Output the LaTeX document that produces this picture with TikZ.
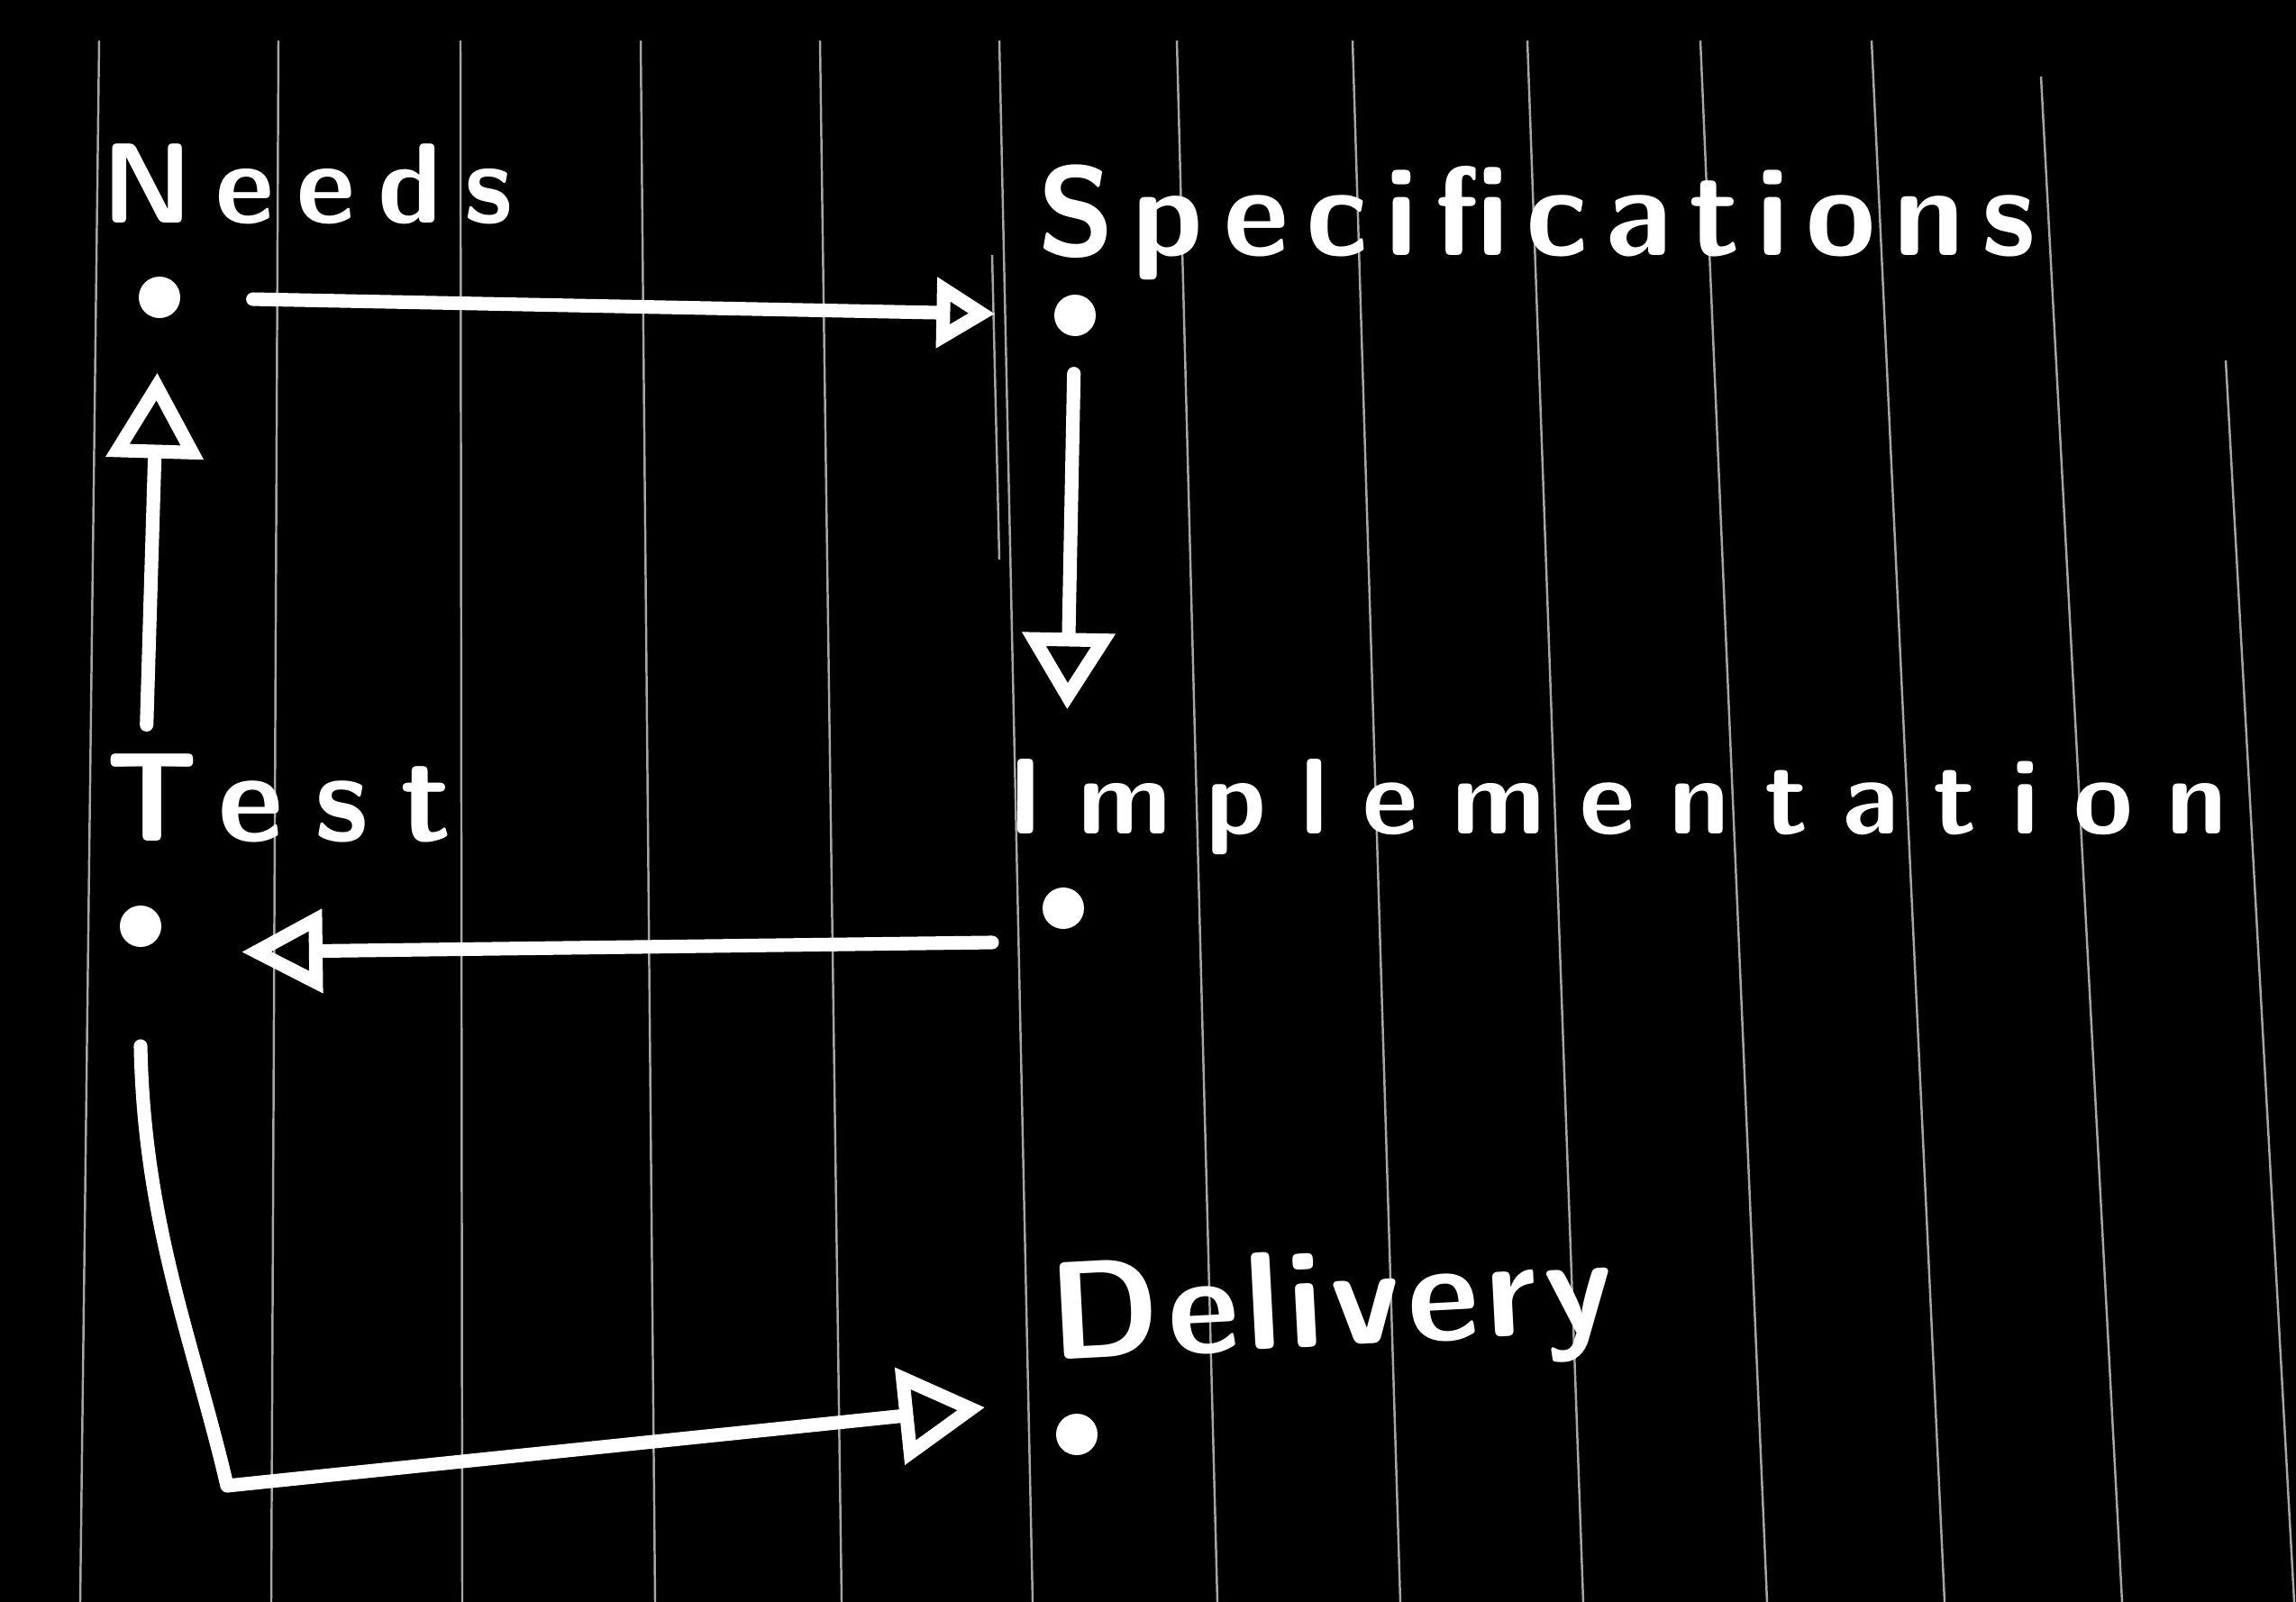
\documentclass[tikz,border=0pt]{standalone}
\usepackage{fontspec}
\usetikzlibrary{arrows.meta}
\newfontfamily\handfont{lmsans10-bold}[Extension=.otf]
\newcommand{\handtxt}[2]{\fontsize{#1}{#1}\handfont\addfontfeature{LetterSpace=#2}}
\begin{document}
\begin{tikzpicture}[
    dot/.style={circle, fill=white, inner sep=0pt, minimum size=0.46cm},
    word/.style={text=white, anchor=base west, inner sep=0pt},
    flow/.style={draw=white, line width=4.3pt, line cap=round, line join=round},
    rule/.style={gray!70, line width=0.7pt}
]
    %Page
    \fill[black] (0,0) rectangle (25.48,-17.78);
    \useasboundingbox (0,0) rectangle (25.48,-17.78);
    %Ruled lines
    \foreach \xa/\ya/\xb in {1.10/0.45/0.89, 3.09/0.45/3.01, 5.11/0.45/5.13,
        7.11/0.45/7.27, 9.10/0.45/9.34, 11.09/0.45/11.46, 13.06/0.45/13.51,
        15.01/0.45/15.54, 16.95/0.45/17.57, 18.87/0.45/19.61, 20.77/0.45/21.58,
        22.65/0.85/23.55, 24.70/4.00/25.46}
        \draw[rule] (\xa,-\ya) -- (\xb,-17.78);
    \draw[rule] (11.01,-2.83) -- (11.09,-6.21);
    %Needs
    \node[word] (needs) at (1.13,-2.47) {\handtxt{36}{20}Needs};
    \node[dot] (ndot) at (1.77,-3.30) {};
    %Specifications
    \node[word] (spec) at (11.51,-2.83) {\handtxt{40}{13.5}Specifications};
    \node[dot] (sdot) at (11.93,-3.50) {};
    %Implementation
    \node[word] (impl) at (11.18,-9.25) {\handtxt{34}{32}Implementation};
    \node[dot] (idot) at (11.80,-10.08) {};
    %Test
    \node[word] (test) at (1.17,-9.33) {\handtxt{40}{25}Test};
    \node[dot] (tdot) at (1.56,-10.28) {};
    %Delivery
    \node[word, rotate=3] (deliv) at (11.67,-15.10) {\handtxt{44}{5}Delivery};
    \node[dot] (ddot) at (11.95,-15.92) {};
    %Needs to Specifications
    \draw[flow, -{Triangle[open, length=0.65cm, width=0.75cm]},
        shorten <=0.8cm, shorten >=0.65cm] (ndot) -- (sdot);
    %Specifications to Implementation
    \draw[flow, -{Triangle[open, length=0.85cm, width=1cm]},
        shorten <=0.41cm, shorten >=1.97cm] (sdot) -- (idot);
    %Implementation back to Test
    \draw[flow, -{Triangle[open, length=0.9cm, width=0.9cm]},
        shorten <=0.79cm, shorten >=1.12cm]
        ([yshift=-0.37cm]idot.center) -- ([yshift=-0.3cm]tdot.center);
    %Test back to Needs
    \draw[flow, -{Triangle[open, length=0.95cm, width=1.05cm]},
        shorten <=2cm, shorten >=0.6cm] (tdot) -- (ndot);
    %Test to Delivery
    \coordinate (bend) at (2.52,-16.49);
    \draw[flow, -{Triangle[open, length=0.95cm, width=1.05cm]}]
        ([yshift=-1.33cm]tdot.center) .. controls (1.60,-13.6) and (2.15,-14.9) .. (bend)
        -- ([xshift=-1.02cm, yshift=0.3cm]ddot.center);
\end{tikzpicture}
\end{document}
